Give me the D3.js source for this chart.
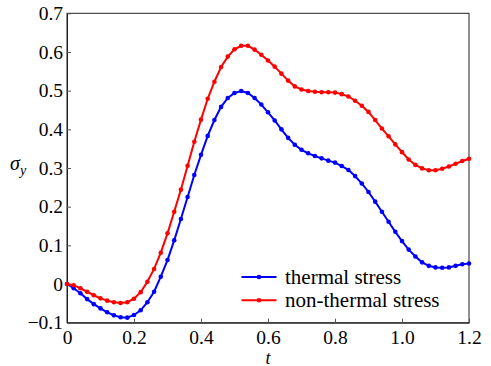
<!DOCTYPE html>
<html>
<head>
<meta charset="utf-8">
<script src="https://cdn.jsdelivr.net/npm/d3@7/dist/d3.min.js"></script>
<style>
  html, body { margin: 0; padding: 0; background: #fff; }
  svg { display: block; }
</style>
</head>
<body>
<svg id="chart" width="491" height="366"></svg>
<script>
// Time samples (step 0.02 from 0 to 1.2)
const tValues = d3.range(61).map(i => +(i * 0.02).toFixed(2));

// Stress σy with thermal effects
const thermalStress = [
  0, -0.011, -0.024, -0.039, -0.052, -0.063, -0.073, -0.081, -0.086, -0.087,
  -0.080, -0.068, -0.047, -0.020, 0.019, 0.062, 0.113, 0.168, 0.225, 0.282,
  0.334, 0.383, 0.424, 0.458, 0.481, 0.494, 0.499, 0.494, 0.481, 0.464,
  0.444, 0.423, 0.400, 0.378, 0.360, 0.347, 0.338, 0.331, 0.325, 0.319,
  0.314, 0.305, 0.295, 0.279, 0.260, 0.238, 0.213, 0.187, 0.161, 0.135,
  0.111, 0.089, 0.071, 0.056, 0.047, 0.043, 0.042, 0.043, 0.047, 0.051,
  0.053
];

// Stress σy without thermal effects
const nonThermalStress = [
  0, -0.003, -0.011, -0.020, -0.029, -0.037, -0.043, -0.047, -0.049, -0.047,
  -0.038, -0.021, 0.006, 0.039, 0.081, 0.131, 0.187, 0.244, 0.306, 0.368,
  0.425, 0.479, 0.523, 0.561, 0.588, 0.607, 0.616, 0.616, 0.606, 0.593,
  0.578, 0.562, 0.544, 0.526, 0.511, 0.503, 0.499, 0.497, 0.496, 0.496,
  0.495, 0.491, 0.485, 0.474, 0.461, 0.445, 0.424, 0.402, 0.382, 0.361,
  0.341, 0.322, 0.308, 0.299, 0.294, 0.294, 0.298, 0.304, 0.311, 0.318,
  0.324
];

const xTicks = [0, 0.2, 0.4, 0.6, 0.8, 1.0, 1.2];
const xTickLabels = ["0", "0.2", "0.4", "0.6", "0.8", "1.0", "1.2"];
const yTicks = [-0.1, 0, 0.1, 0.2, 0.3, 0.4, 0.5, 0.6, 0.7];
const yTickLabels = ["\u22120.1", "0", "0.1", "0.2", "0.3", "0.4", "0.5", "0.6", "0.7"];

const seriesNames = ["thermal stress", "non-thermal stress"];
const seriesColors = ["#0000ff", "#ff0000"];

const FONT = "'Liberation Serif', 'Times New Roman', serif";

const svg = d3.select("#chart").attr("font-family", FONT);
const plotLeft = 67, plotRight = 469, plotTop = 13.3, plotBottom = 322.7;

const x = d3.scaleLinear().domain([0, 1.2]).range([plotLeft, plotRight]);
const y = d3.scaleLinear().domain([-0.1, 0.7]).range([plotBottom, plotTop]);

// Frame
svg.append("rect")
  .attr("x", plotLeft).attr("y", plotTop)
  .attr("width", plotRight - plotLeft).attr("height", plotBottom - plotTop)
  .attr("fill", "none").attr("stroke", "#222").attr("stroke-width", 1);

// Axes with inward ticks
const xAxis = d3.axisBottom(x).tickValues(xTicks)
  .tickFormat((d, i) => xTickLabels[i]).tickSizeInner(-4).tickSizeOuter(0).tickPadding(7);
const gx = svg.append("g").attr("transform", `translate(0,${plotBottom})`).call(xAxis)
  .attr("font-family", FONT).attr("font-size", 19.5);
gx.select(".domain").attr("stroke", "#222");
gx.selectAll(".tick line").attr("stroke", "#555");
gx.selectAll("text").attr("fill", "#000").attr("font-family", FONT).attr("font-size", 19.5);

const yAxis = d3.axisLeft(y).tickValues(yTicks)
  .tickFormat((d, i) => yTickLabels[i]).tickSizeInner(-4).tickSizeOuter(0).tickPadding(4);
const gy = svg.append("g").attr("transform", `translate(${plotLeft},0)`).call(yAxis)
  .attr("font-family", FONT).attr("font-size", 19.5);
gy.select(".domain").attr("stroke", "#222");
gy.selectAll(".tick line").attr("stroke", "#555");
gy.selectAll("text").attr("fill", "#000").attr("font-family", FONT).attr("font-size", 19.5);

// Axis titles
svg.append("text").attr("x", x(0.6)).attr("y", 364)
  .attr("text-anchor", "middle").attr("font-family", FONT)
  .attr("font-size", 18).attr("font-style", "italic").text("t");
const yTitle = svg.append("text").attr("x", 10).attr("y", 170)
  .attr("font-family", FONT).attr("font-size", 20).attr("font-style", "italic");
yTitle.append("tspan").text("\u03c3");
yTitle.append("tspan").attr("font-size", 14).attr("dy", 5).text("y");

// Series
const line = d3.line().x((d, i) => x(tValues[i])).y(d => y(d));
[thermalStress, nonThermalStress].forEach((vals, k) => {
  const g = svg.append("g");
  g.append("path").datum(vals).attr("d", line)
    .attr("fill", "none").attr("stroke", seriesColors[k]).attr("stroke-width", 2);
  g.selectAll("circle").data(vals).join("circle")
    .attr("cx", (d, i) => x(tValues[i])).attr("cy", d => y(d))
    .attr("r", 2.3).attr("fill", seriesColors[k]);
});

// Legend
const legend = svg.append("g");
seriesNames.forEach((name, k) => {
  const ly = 277 + k * 23.3;
  legend.append("line").attr("x1", 241.5).attr("x2", 276.5).attr("y1", ly).attr("y2", ly)
    .attr("stroke", seriesColors[k]).attr("stroke-width", 2);
  legend.append("circle").attr("cx", 259).attr("cy", ly).attr("r", 2.3).attr("fill", seriesColors[k]);
  legend.append("text").attr("x", 285).attr("y", ly + 6.5)
    .attr("font-family", FONT).attr("font-size", 21).text(name);
});
</script>
</body>
</html>
